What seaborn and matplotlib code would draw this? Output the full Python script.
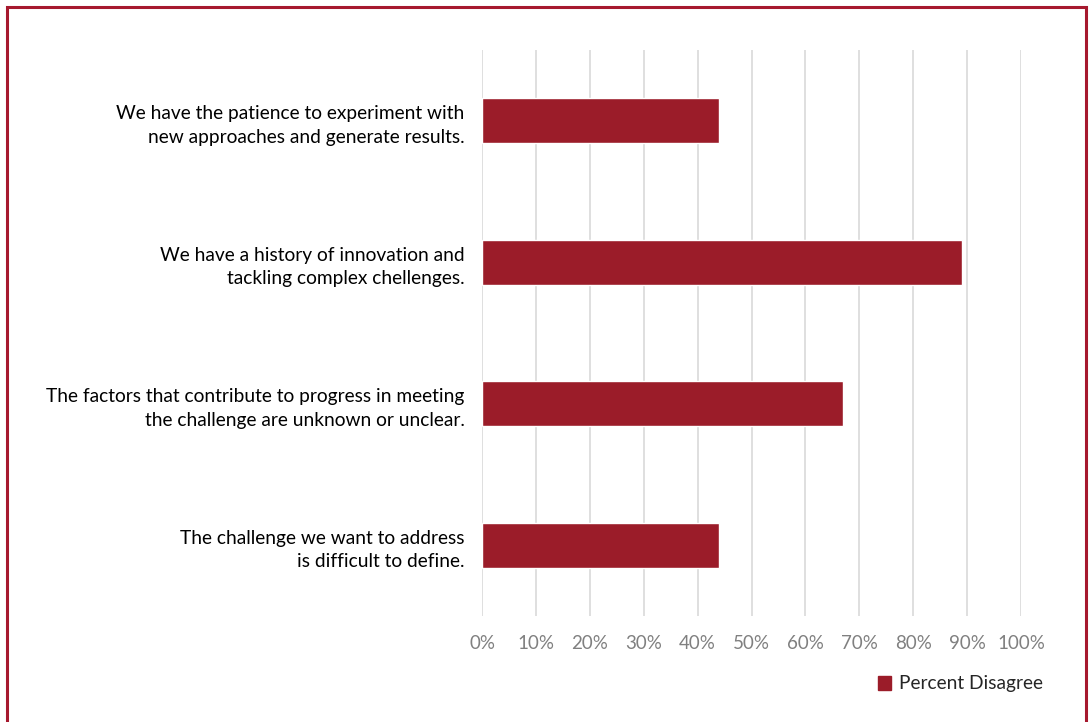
import matplotlib
matplotlib.use("Agg")
import matplotlib.pyplot as plt
import seaborn as sns
import pandas as pd
from matplotlib.patches import Rectangle

categories = [
    "We have the patience to experiment with\nnew approaches and generate results.",
    "We have a history of innovation and\ntackling complex chellenges.",
    "The factors that contribute to progress in meeting\nthe challenge are unknown or unclear.",
    "The challenge we want to address\nis difficult to define.",
]
values = [44, 89, 67, 44]
series_name = "Percent Disagree"
xticks = list(range(0, 101, 10))
xtick_labels = [f"{t}%" for t in xticks]

df = pd.DataFrame({"label": categories, "value": values, "series": series_name})

sns.set_theme(style="white")
plt.rcParams['font.family'] = ['Lato', 'DejaVu Sans']

color = "#9B1C29"
fig = plt.figure(figsize=(10.9, 7.22), dpi=100)
ax = fig.add_axes([482/1090, 1 - 616/722, (1021-482)/1090, (616-50)/722])

sns.barplot(data=df, y="label", x="value", hue="series", palette=[color],
            saturation=1, orient="h", width=0.32, ax=ax, legend=False, zorder=3)

ax.set_xlim(0, 100)
ax.set_xticks(xticks)
ax.set_xticklabels(xtick_labels, color="#808080", fontsize=13.5)
ax.tick_params(axis="y", labelsize=13.8, colors="#000000", length=0, pad=12.5)
ax.tick_params(axis="x", length=0, pad=14)
for lbl in ax.get_yticklabels():
    lbl.set_horizontalalignment("right")
    lbl.set_multialignment("right")
    lbl.set_linespacing(1.45)
ax.set_xlabel("")
ax.set_ylabel("")
ax.grid(axis="x", color="#D9D9D9", linewidth=1.2, zorder=0)
for s in ax.spines.values():
    s.set_visible(False)

# legend
handle = Rectangle((0, 0), 1, 1, color=color)
fig.legend([handle], [series_name], loc="center right",
           bbox_to_anchor=(1060/1090, 1 - 684/722), frameon=False,
           fontsize=13.8, handlelength=0.7, handleheight=0.7, handletextpad=0.4)

# border
fig.patches.append(Rectangle((6.5/1090, -0.01), (1086-6.5)/1090, 1 - 6.5/722 + 0.01,
                             transform=fig.transFigure, fill=False,
                             edgecolor="#A6192E", linewidth=2.2, zorder=10))

fig.savefig("out.png", dpi=100)
